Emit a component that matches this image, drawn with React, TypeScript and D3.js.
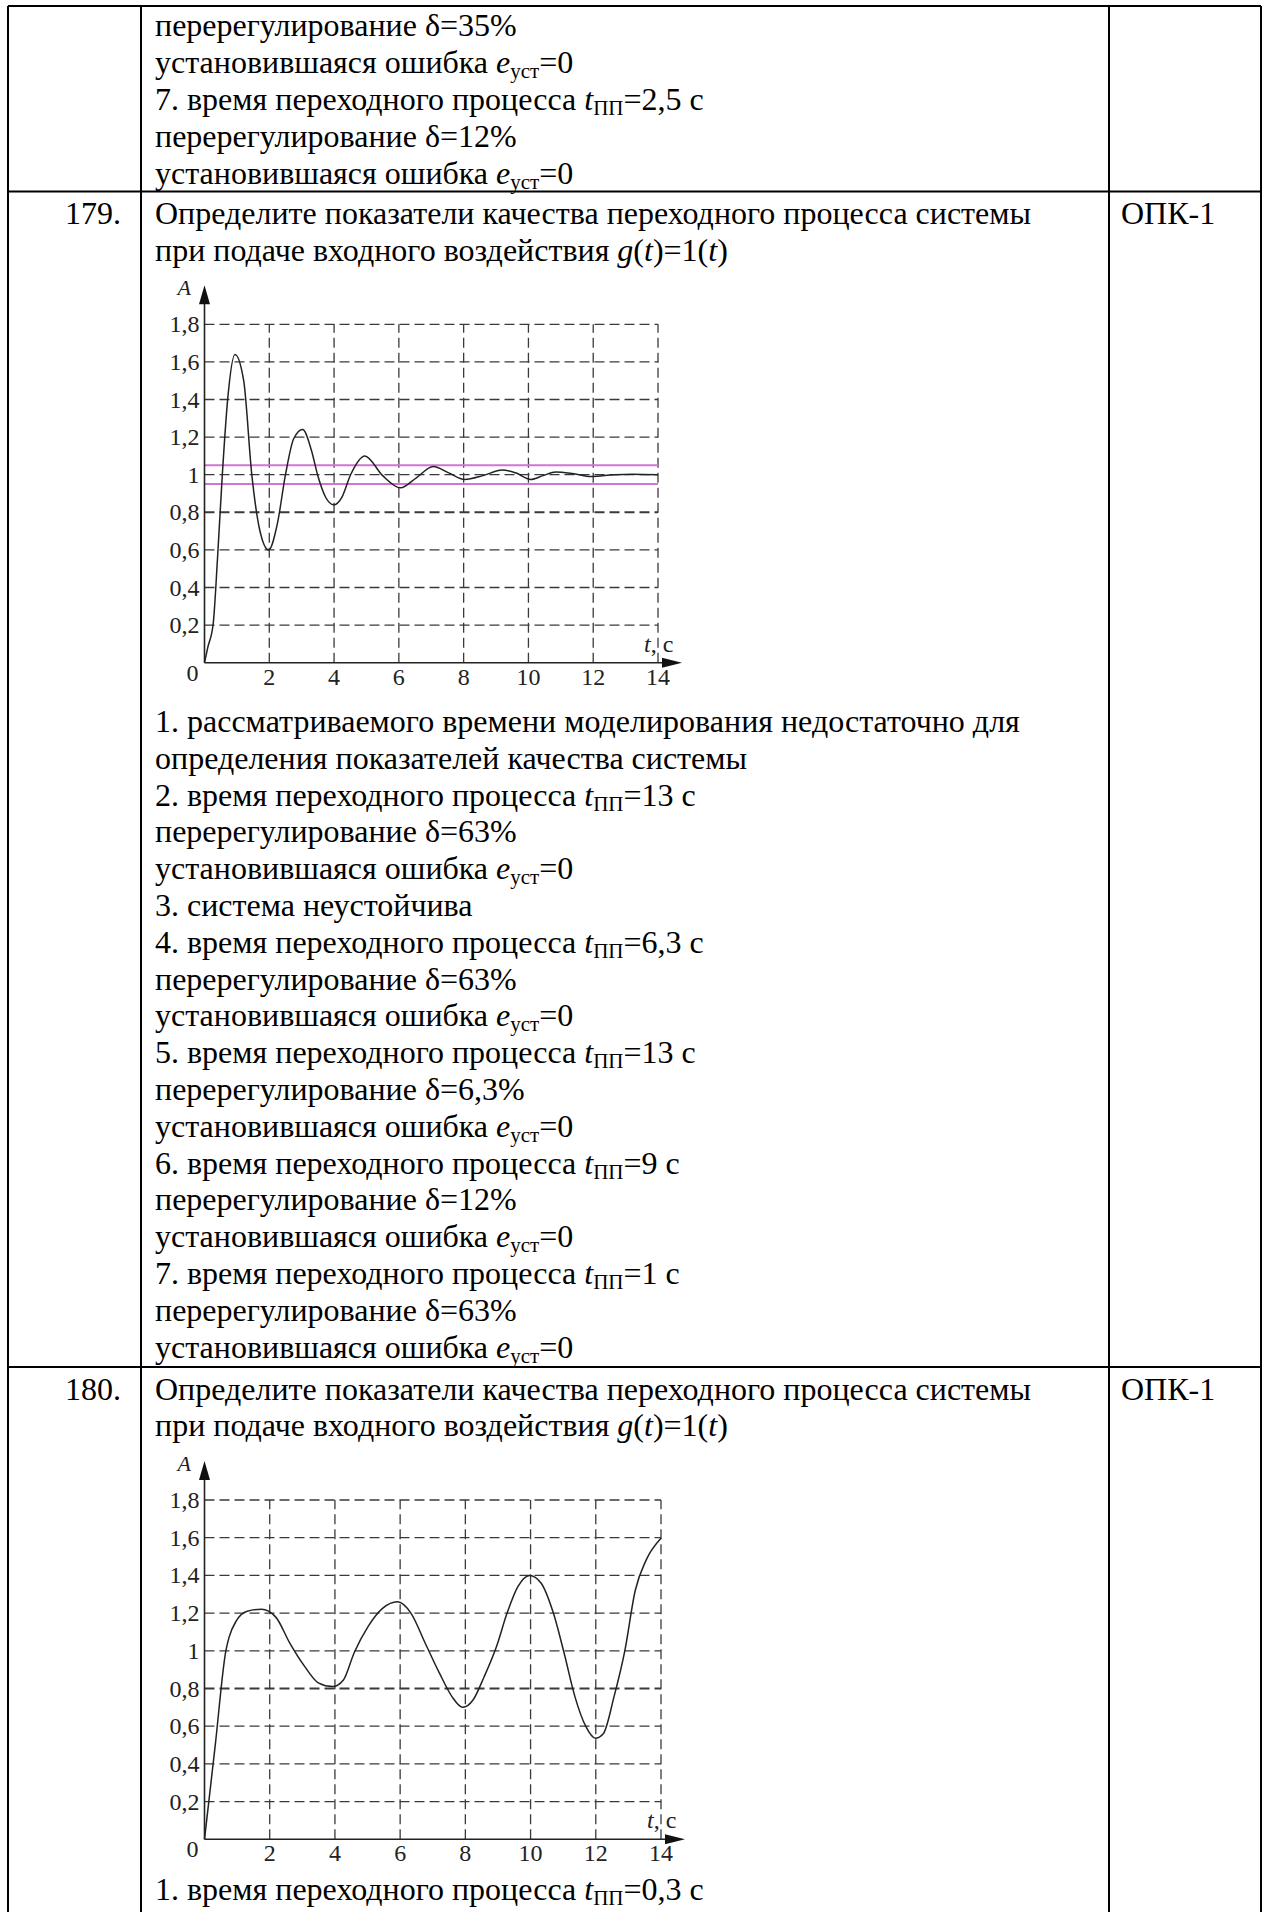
import React from 'react';
import * as d3 from 'd3';

// transient response, question 179 (damped)
const t179 = [0, 0.1, 0.27, 0.4, 0.55, 0.72, 0.94, 1.21, 1.46, 1.7, 1.98, 2.25, 2.5, 2.75, 3.03, 3.3, 3.49, 3.74, 3.99, 4.24, 4.51, 4.95, 5.5, 6.05, 6.55, 7.06, 7.54, 8.03, 8.6, 9.19, 9.6, 10.07, 10.45, 10.84, 11.4, 11.94, 12.65, 13.2, 14];
const a179 = [0, 0.08, 0.21, 0.55, 1.0, 1.41, 1.64, 1.5, 1.0, 0.71, 0.6, 0.74, 1.0, 1.19, 1.24, 1.13, 1.0, 0.88, 0.84, 0.88, 1.0, 1.1, 0.995, 0.93, 0.985, 1.043, 1.01, 0.975, 0.995, 1.025, 1.01, 0.975, 0.995, 1.015, 1.005, 0.99, 1.0, 1.003, 1.0];

// transient response, question 180 (growing oscillation)
const t180 = [0, 0.33, 0.655, 0.75, 0.98, 1.31, 1.75, 2.18, 2.62, 3.06, 3.49, 3.93, 4.26, 4.59, 5.02, 5.46, 5.92, 6.33, 6.77, 7.21, 7.59, 7.92, 8.24, 8.57, 8.95, 9.28, 9.61, 9.97, 10.32, 10.7, 11.03, 11.36, 11.69, 11.99, 12.23, 12.56, 12.89, 13.21, 13.54, 14];
const a180 = [0, 0.5, 1.0, 1.07, 1.16, 1.21, 1.22, 1.18, 1.04, 0.92, 0.83, 0.81, 0.845, 0.99, 1.13, 1.225, 1.26, 1.2, 1.04, 0.88, 0.757, 0.7, 0.74, 0.86, 1.02, 1.2, 1.34, 1.4, 1.36, 1.2, 0.987, 0.757, 0.6, 0.536, 0.56, 0.757, 1.0, 1.32, 1.48, 1.597];

// 5% band around steady state (only drawn on the first chart)
const band179 = [0.95, 1.05];

const xTicks = [2, 4, 6, 8, 10, 12, 14];
const yTicks = [0.2, 0.4, 0.6, 0.8, 1, 1.2, 1.4, 1.6, 1.8];
const fmt = (v: number) => String(v).replace('.', ',');

// text, {i:..} = italic, {s:..} = subscript
const row178 = [
  'перерегулирование δ=35%',
  'установившаяся ошибка {i:e}{s:уст}=0',
  '7. время переходного процесса {i:t}{s:ПП}=2,5 с',
  'перерегулирование δ=12%',
  'установившаяся ошибка {i:e}{s:уст}=0',
];
const question = [
  'Определите показатели качества переходного процесса системы',
  'при подаче входного воздействия {i:g}({i:t})=1({i:t})',
];
const options179 = [
  '1. рассматриваемого времени моделирования недостаточно для',
  'определения показателей качества системы',
  '2. время переходного процесса {i:t}{s:ПП}=13 с',
  'перерегулирование δ=63%',
  'установившаяся ошибка {i:e}{s:уст}=0',
  '3. система неустойчива',
  '4. время переходного процесса {i:t}{s:ПП}=6,3 с',
  'перерегулирование δ=63%',
  'установившаяся ошибка {i:e}{s:уст}=0',
  '5. время переходного процесса {i:t}{s:ПП}=13 с',
  'перерегулирование δ=6,3%',
  'установившаяся ошибка {i:e}{s:уст}=0',
  '6. время переходного процесса {i:t}{s:ПП}=9 с',
  'перерегулирование δ=12%',
  'установившаяся ошибка {i:e}{s:уст}=0',
  '7. время переходного процесса {i:t}{s:ПП}=1 с',
  'перерегулирование δ=63%',
  'установившаяся ошибка {i:e}{s:уст}=0',
];
const options180 = ['1. время переходного процесса {i:t}{s:ПП}=0,3 с'];

const W = 1267;
const H = 1912;
const FONT = '"Liberation Serif", "Times New Roman", serif';
const LH = 36.8;

function RichLine({ x, y, src }: { x: number; y: number; src: string }) {
  const parts: { text: string; kind: string }[] = [];
  const re = /\{(i|s):([^}]*)\}/g;
  let last = 0;
  let m;
  while ((m = re.exec(src))) {
    if (m.index > last) parts.push({ text: src.slice(last, m.index), kind: 'n' });
    parts.push({ text: m[2], kind: m[1] });
    last = re.lastIndex;
  }
  if (last < src.length) parts.push({ text: src.slice(last), kind: 'n' });

  let shifted = false;
  return (
    <text x={x} y={y} fontSize={32} fontFamily={FONT} fill="#000">
      {parts.map((p, k) => {
        if (p.kind === 's') {
          shifted = true;
          return <tspan key={k} dy={5} fontSize={21}>{p.text}</tspan>;
        }
        const dy = shifted ? -5 : undefined;
        shifted = false;
        return (
          <tspan key={k} dy={dy} fontStyle={p.kind === 'i' ? 'italic' : undefined}>
            {p.text}
          </tspan>
        );
      })}
    </text>
  );
}

function Lines({ x, y, lines }: { x: number; y: number; lines: string[] }) {
  return (
    <g>
      {lines.map((l, k) => <RichLine key={k} x={x} y={y + k * LH} src={l} />)}
    </g>
  );
}

function Chart({ left, right, top, bottom, t, a, band }: {
  left: number; right: number; top: number; bottom: number;
  t: number[]; a: number[]; band?: number[];
}) {
  const x = d3.scaleLinear().domain([0, 14]).range([left, right]);
  const y = d3.scaleLinear().domain([0, 1.8]).range([bottom, top]);
  const pts = t.map((v, k) => [v, a[k]] as [number, number]);
  const line = d3.line<[number, number]>()
    .x(d => x(d[0]))
    .y(d => y(d[1]))
    .curve(d3.curveMonotoneX);
  const grid = '#3a3a3a';

  return (
    <g>
      {yTicks.map(v => (
        <line key={'h' + v} x1={x(0)} x2={x(14)} y1={y(v)} y2={y(v)}
          stroke={grid} strokeWidth={v === 0.8 ? 1.9 : 1.3} strokeDasharray="10,5" />
      ))}
      {xTicks.map(v => (
        <line key={'v' + v} x1={x(v)} x2={x(v)} y1={y(0)} y2={y(1.8)}
          stroke={grid} strokeWidth={1.3} strokeDasharray="10,5" />
      ))}
      {band && band.map(v => (
        <line key={'b' + v} x1={x(0)} x2={x(14)} y1={y(v)} y2={y(v)}
          stroke="#d274d4" strokeWidth={2} />
      ))}
      {/* axes with arrows */}
      <line x1={x(0)} x2={x(0)} y1={y(0)} y2={y(1.8) - 22} stroke="#222" strokeWidth={1.6} />
      <path d={`M${x(0)},${y(1.8) - 39} L${x(0) - 5.5},${y(1.8) - 20} L${x(0) + 5.5},${y(1.8) - 20} Z`} fill="#111" />
      <line x1={x(0)} x2={x(14) + 6} y1={y(0)} y2={y(0)} stroke="#222" strokeWidth={1.6} />
      <path d={`M${x(14) + 24},${y(0)} L${x(14) + 4},${y(0) - 5} L${x(14) + 4},${y(0) + 5} Z`} fill="#111" />

      <path d={line(pts) || ''} fill="none" stroke="#222" strokeWidth={1.5} />

      <g fontFamily={FONT} fontSize={24} fill="#222">
        {yTicks.map(v => (
          <text key={'yl' + v} x={x(0) - 5} y={y(v) + 8} textAnchor="end">{fmt(v)}</text>
        ))}
        <text x={x(0) - 12} y={y(0) + 18} textAnchor="middle">0</text>
        {xTicks.map(v => (
          <text key={'xl' + v} x={x(v)} y={y(0) + 22} textAnchor="middle">{v}</text>
        ))}
        <text x={x(0) - 27} y={y(1.8) - 29} fontStyle="italic" fontSize={22}>A</text>
        <text x={x(14) - 14} y={y(0) - 11} fontSize={24}>
          <tspan fontStyle="italic">t</tspan>, с
        </text>
      </g>
    </g>
  );
}

export default function App() {
  const colA = 8;
  const colB = 141;
  const colC = 1109;
  const colD = 1261;
  const rowLines = [6, 191.5, 1367];
  const textX = 155;

  return (
    <>
      <style>{'body{margin:0}'}</style>
      <svg width={W} height={H} viewBox={`0 0 ${W} ${H}`} style={{ display: 'block', background: '#fff' }}>
        <rect width={W} height={H} fill="#fff" />
        {/* table frame */}
        <g stroke="#000" strokeWidth={2}>
          {rowLines.map(r => <line key={r} x1={colA} x2={colD} y1={r} y2={r} />)}
          {[colA, colB, colC, colD].map(c => <line key={c} x1={c} x2={c} y1={rowLines[0]} y2={H} />)}
        </g>

        <Lines x={textX} y={36.3} lines={row178} />

        <text x={121} y={224} textAnchor="end" fontSize={32} fontFamily={FONT}>179.</text>
        <text x={1121} y={224} fontSize={32} fontFamily={FONT}>ОПК-1</text>
        <Lines x={textX} y={224} lines={question} />
        <Chart left={204.5} right={658} top={324.3} bottom={662.7} t={t179} a={a179} band={band179} />
        <Lines x={textX} y={732} lines={options179} />

        <text x={121} y={1399.5} textAnchor="end" fontSize={32} fontFamily={FONT}>180.</text>
        <text x={1121} y={1399.5} fontSize={32} fontFamily={FONT}>ОПК-1</text>
        <Lines x={textX} y={1399.5} lines={question} />
        <Chart left={204.5} right={661} top={1500} bottom={1839.3} t={t180} a={a180} />
        <Lines x={textX} y={1900} lines={options180} />
      </svg>
    </>
  );
}
